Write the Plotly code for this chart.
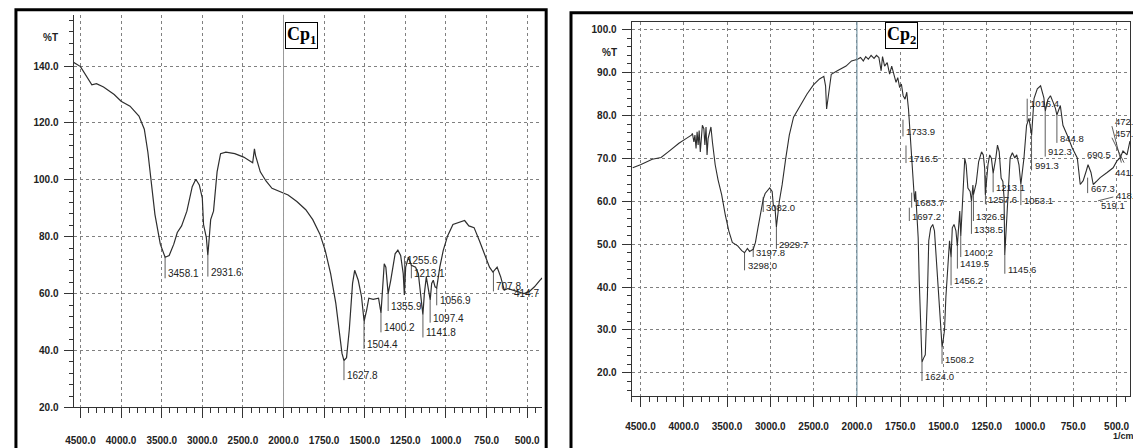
import plotly.graph_objects as go

W, H = 1133, 448

# ---------------- data ----------------
x_tick_wavenumbers = [4500, 4000, 3500, 3000, 2500, 2000, 1750, 1500, 1250, 1000, 750, 500]
x_tick_labels = ["4500.0", "4000.0", "3500.0", "3000.0", "2500.0", "2000.0",
                 "1750.0", "1500.0", "1250.0", "1000.0", "750.0", "500.0"]

cp1_wavenumber = [
    4596, 4500, 4360, 4303, 4216, 4085, 4000, 3890, 3780, 3714,
    3670, 3627, 3583, 3517, 3458, 3408, 3351, 3308, 3255, 3190,
    3124, 3080, 3037, 3000, 2985, 2950, 2932, 2897, 2862, 2818,
    2775, 2710, 2600, 2491, 2403, 2380, 2358, 2345, 2286, 2249,
    2216, 2142, 2055, 1972, 1918, 1863, 1820, 1776, 1743, 1710,
    1678, 1656, 1640, 1628, 1612, 1595, 1575, 1562, 1540, 1520,
    1504, 1488, 1475, 1448, 1415, 1400, 1392, 1380, 1370, 1356,
    1340, 1313, 1296, 1279, 1263, 1256, 1248, 1231, 1213, 1187,
    1170, 1154, 1142, 1133, 1121, 1097, 1088, 1078, 1067, 1057,
    1038, 1017, 990, 957, 925, 885, 859, 827, 794, 761,
    732, 711, 685, 663, 641, 619, 586, 553, 520, 488,
    455, 422, 408]
cp1_transmittance = [
    141.5, 139.8, 133.4, 133.8, 132.6, 130.0, 127.6, 125.9, 122.4, 117.8,
    109.7, 98.2, 87.8, 77.4, 72.8, 73.4, 77.4, 81.5, 83.8, 89.0,
    97.6, 100.2, 98.2, 93.6, 84.3, 79.7, 73.4, 86.0, 89.0, 102.8,
    109.2, 109.7, 109.2, 108.0, 106.3, 106.0, 110.9, 108.6, 102.8, 101.0,
    99.6, 97.0, 96.1, 94.7, 92.4, 89.5, 86.0, 80.9, 75.1, 67.0,
    56.6, 47.4, 39.0, 36.5, 37.5, 47.4, 63.6, 68.2, 64.7, 59.0,
    50.3, 54.3, 58.4, 58.0, 58.4, 53.2, 59.0, 70.5, 69.3, 60.0,
    64.7, 74.0, 75.3, 73.4, 67.0, 59.5, 69.3, 72.8, 70.0, 69.3,
    67.0, 59.0, 52.6, 60.0, 65.9, 57.8, 63.6, 64.7, 62.4, 62.0,
    69.3, 75.1, 80.3, 84.3, 84.9, 85.7, 83.8, 83.2, 78.6, 74.0,
    69.3, 67.6, 69.3, 65.9, 61.2, 61.8, 61.2, 60.7, 60.0, 60.7,
    62.4, 64.7, 65.5]

cp2_wavenumber = [
    4590, 4500, 4364, 4262, 4179, 4056, 3974, 3912, 3900, 3883,
    3871, 3858, 3846, 3834, 3822, 3809, 3797, 3785, 3768, 3756,
    3743, 3731, 3719, 3702, 3686, 3669, 3653, 3637, 3604, 3562,
    3521, 3480, 3439, 3377, 3330, 3298, 3265, 3240, 3198, 3172,
    3143, 3110, 3082, 3060, 3007, 2979, 2966, 2946, 2930, 2896,
    2864, 2822, 2781, 2732, 2658, 2576, 2502, 2432, 2382, 2362,
    2350, 2329, 2296, 2226, 2125, 2062, 1996, 1979, 1963, 1949,
    1934, 1918, 1901, 1887, 1873, 1860, 1852, 1840, 1825, 1811,
    1799, 1784, 1774, 1764, 1753, 1743, 1733, 1722, 1712, 1702,
    1696, 1687, 1681, 1675, 1667, 1661, 1655, 1646, 1640, 1630,
    1624, 1614, 1605, 1593, 1585, 1574, 1562, 1552, 1544, 1531,
    1523, 1513, 1508, 1502, 1494, 1486, 1476, 1465, 1456, 1449,
    1439, 1428, 1420, 1412, 1406, 1400, 1389, 1377, 1369, 1359,
    1346, 1338, 1330, 1327, 1311, 1297, 1280, 1270, 1262, 1258,
    1243, 1233, 1223, 1213, 1198, 1188, 1178, 1167, 1157, 1150,
    1146, 1130, 1115, 1102, 1088, 1077, 1064, 1053, 1035, 1020,
    1006, 991, 977, 958, 939, 920, 912, 897, 882, 867,
    853, 845, 825, 810, 796, 785, 756, 727, 710, 693,
    675, 665, 648, 635, 612, 595, 555, 520, 498, 480,
    463, 440, 423]
cp2_transmittance = [
    67.8, 68.5, 69.8, 70.2, 71.5, 73.5, 74.6, 75.4, 75.8, 73.8,
    75.4, 72.3, 76.2, 73.1, 76.5, 71.5, 74.6, 77.7, 76.9, 73.1,
    77.3, 70.8, 74.6, 76.5, 77.3, 73.8, 70.8, 68.5, 65.0, 61.5,
    56.9, 53.1, 50.4, 49.6, 48.5, 48.0, 49.0, 48.3, 48.8, 50.4,
    53.8, 57.7, 60.5, 61.8, 63.1, 62.3, 59.2, 58.5, 54.0, 60.0,
    63.8, 70.0, 75.4, 79.6, 82.3, 85.0, 87.1, 88.5, 89.1, 86.9,
    81.5, 84.6, 89.6, 90.4, 91.5, 92.7, 93.1, 93.5, 92.7, 93.7,
    93.1, 94.0, 93.3, 94.0, 93.5, 90.4, 93.7, 91.5, 92.3, 89.6,
    91.5, 89.2, 87.7, 88.8, 86.5, 87.3, 84.6, 83.8, 85.4, 81.5,
    77.7, 73.8, 68.5, 63.8, 60.0, 62.3, 56.9, 51.5, 41.5, 27.0,
    22.5, 23.5, 24.2, 37.7, 50.8, 53.8, 54.6, 53.1, 48.5, 39.2,
    36.2, 28.5, 26.0, 27.5, 30.0, 37.7, 43.8, 50.8, 46.9, 53.8,
    54.6, 53.1, 49.6, 56.2, 57.7, 51.9, 62.3, 70.0, 68.5, 63.1,
    62.3, 60.0, 63.8, 61.5, 64.2, 69.2, 71.5, 70.8, 67.7, 61.5,
    68.5, 70.8, 70.0, 66.5, 70.0, 73.1, 71.5, 65.4, 64.6, 60.8,
    47.5, 60.9, 70.1, 71.3, 70.1, 70.8, 68.5, 63.9, 70.1, 77.7,
    79.3, 75.4, 83.9, 86.2, 86.9, 84.1, 81.0, 83.7, 84.6, 83.1,
    81.6, 80.1, 82.3, 77.7, 76.5, 75.4, 72.4, 70.1, 63.9, 64.8,
    67.1, 68.5, 66.7, 63.9, 64.8, 65.5, 66.7, 67.8, 69.4, 70.1,
    71.7, 70.8, 74.0]

# peak labels (wavenumber, %T at peak, %T where the label text sits, wavenumber where text starts)
cp1_peak = [3458.1, 2931.6, 1627.8, 1504.4, 1400.2, 1355.9, 1255.6, 1213.1,
            1141.8, 1097.4, 1056.9, 707.8, 414.7]
cp1_peak_T = [72.8, 73.4, 36.5, 50.3, 53.2, 60.0, 59.5, 70.0,
              52.6, 57.8, 62.0, 67.6, None]
cp1_label_T = [67.0, 67.6, 31.2, 42.2, 48.0, 55.5, 71.6, 67.0,
               46.2, 51.4, 57.5, 62.4, 60.0]
cp1_label_at = list(cp1_peak)
cp1_label_side = ["left"] * 12 + ["right"]

cp2_peak = [3298.0, 3197.8, 3082.0, 2929.7, 1733.9, 1716.5, 1697.2, 1683.7,
            1624.0, 1508.2, 1456.2, 1419.5, 1400.2, 1338.5, 1326.9, 1257.6,
            1213.1, 1145.6, 1053.1, 1016.4, 991.3, 912.3, 844.8, 690.5,
            667.3, 519.1, 472.5, 457.1, 441.7, 418.5]
cp2_peak_T = [48.0, 49.5, 61.0, 54.0, 79.0, 73.0, 58.5, 62.0,
              22.5, 26.0, 46.9, 49.6, 51.9, 60.0, 61.5, 66.0,
              66.5, 47.5, 63.9, 78.5, 75.4, 81.0, 80.1, None,
              65.5, 61.0, 69.0, 69.0, None, None]
cp2_label_T = [45.0, 48.1, 58.6, 50.0, 76.2, 70.0, 56.5, 59.6,
               19.2, 23.2, 41.5, 45.4, 48.1, 53.5, 56.5, 60.4,
               63.2, 44.2, 60.2, 82.8, 68.3, 71.5, 74.7, 70.8,
               63.0, 59.0, 78.6, 75.9, 66.7, 61.4]
cp2_label_at = [3298.0, 3197.8, 3082.0, 2929.7, 1733.9, 1716.5, 1697.2, 1683.7,
                1624.0, 1508.2, 1456.2, 1419.5, 1400.2, 1338.5, 1326.9, 1257.6,
                1213.1, 1145.6, 1053.1, 1016.4, 991.3, 912.3, 844.8, 690.5,
                667.3, 607.0, 527.0, 527.0, 525.0, 520.0]
cp2_label_side = ["left"] * 30


# split-scale wavenumber axis (500 cm-1 steps above 2000, 250 cm-1 steps below)
def axis_pos(w):
    return (4500.0 - w) / 500.0 if w >= 2000 else 5.0 + (2000.0 - w) / 250.0


SANS = "Liberation Sans, Arial, sans-serif"
INK = "#222222"

fig = go.Figure()
fig.add_trace(go.Scatter(x=[axis_pos(w) for w in cp1_wavenumber], y=cp1_transmittance,
                         mode="lines", line=dict(color="#2e2e2e", width=1.2),
                         xaxis="x", yaxis="y", showlegend=False, hoverinfo="skip"))
fig.add_trace(go.Scatter(x=[axis_pos(w) for w in cp2_wavenumber], y=cp2_transmittance,
                         mode="lines", line=dict(color="#2e2e2e", width=1.1),
                         xaxis="x2", yaxis="y2", showlegend=False, hoverinfo="skip"))

tickvals = [axis_pos(w) for w in x_tick_wavenumbers]
tick_font = dict(family=SANS, size=10, color=INK, weight="bold")
grid = dict(showgrid=True, gridcolor="#808080", griddash="dot", gridwidth=1)


def xaxis_cfg(domain, rng, anchor, mirror, standoff):
    return dict(domain=domain, range=rng, anchor=anchor, tickmode="array",
                tickvals=tickvals, ticktext=x_tick_labels, ticks="outside",
                ticklen=10, tickwidth=1, tickcolor="#333", showline=True,
                linecolor="#333", linewidth=1, mirror=mirror, zeroline=False,
                tickfont=tick_font, ticklabelstandoff=standoff,
                minor=dict(tickmode="linear", tick0=0, dtick=0.2, ticks="outside",
                           ticklen=5, tickwidth=1, tickcolor="#333", showgrid=False),
                **grid)


def yaxis_cfg(domain, rng, anchor, vals, mdt, mirror):
    return dict(domain=domain, range=rng, anchor=anchor, tickmode="array",
                tickvals=vals, ticktext=[f"{v:.1f}" for v in vals], ticks="outside",
                ticklen=9, tickwidth=1, tickcolor="#333", showline=True,
                linecolor="#333", linewidth=1, mirror=mirror, zeroline=False,
                tickfont=tick_font, ticklabelstandoff=3,
                minor=dict(tickmode="linear", tick0=0, dtick=mdt, ticks="outside",
                           ticklen=4, tickwidth=1, tickcolor="#333", showgrid=False),
                **grid)


fig.update_layout(
    width=W, height=H, margin=dict(l=0, r=0, t=0, b=0),
    paper_bgcolor="white", plot_bgcolor="white",
    xaxis=xaxis_cfg([66 / W, 538 / W], [-0.171, 11.37], "y", False, 14),
    yaxis=yaxis_cfg([1 - 413 / H, 1 - 15 / H], [20, 158], "x",
                    [20, 40, 60, 80, 100, 120, 140], 4, False),
    xaxis2=xaxis_cfg([628 / W, 1130 / W], [-0.206, 11.31], "y2", True, 11),
    yaxis2=yaxis_cfg([1 - 401 / H, 1 - 22 / H], [14.7, 101.84], "x2",
                     [20, 30, 40, 50, 60, 70, 80, 90, 100], 2, True),
)

shapes = [
    # panel frames
    dict(type="rect", xref="paper", yref="paper", x0=8 / W, x1=542 / W,
         y0=-0.1, y1=1 - 10 / H, line=dict(color="black", width=3)),
    dict(type="rect", xref="paper", yref="paper", x0=567 / W, x1=1.1,
         y0=-0.1, y1=1 - 13 / H, line=dict(color="black", width=3)),
    # solid 2000 cm-1 lines
    dict(type="line", xref="x", yref="y domain", x0=axis_pos(2000), x1=axis_pos(2000),
         y0=0, y1=1, line=dict(color="#9a9a9a", width=1)),
    dict(type="line", xref="x2", yref="y2 domain", x0=axis_pos(2000), x1=axis_pos(2000),
         y0=0, y1=1, line=dict(color="#7796a6", width=1.2)),
]
annotations = []


def add_labels(peaks, peak_T, label_T, label_at, side, xr, yr, half, fsize):
    for p, pt, lt, at, sd in zip(peaks, peak_T, label_T, label_at, side):
        xa = axis_pos(at)
        annotations.append(dict(x=xa, y=lt, xref=xr, yref=yr, text=f"{p:.1f}",
                                showarrow=False, xanchor=sd, yanchor="middle",
                                xshift=1 if sd == "left" else 0,
                                font=dict(family=SANS, size=fsize, color=INK)))
        if pt is None:
            continue
        if at == p:
            yend = lt - half if lt < pt else lt + half
        else:
            yend = lt + half if lt < pt else lt - half
        shapes.append(dict(type="line", xref=xr, yref=yr, x0=axis_pos(p), x1=xa,
                           y0=pt, y1=yend, line=dict(color="#333", width=0.8)))


add_labels(cp1_peak, cp1_peak_T, cp1_label_T, cp1_label_at, cp1_label_side,
           "x", "y", 1.6, 10)
add_labels(cp2_peak, cp2_peak_T, cp2_label_T, cp2_label_at, cp2_label_side,
           "x2", "y2", 1.1, 9.5)

# panel titles in boxes
for txt, px in [("Cp<sub>1</sub>", 279), ("Cp<sub>2</sub>", 883)]:
    annotations.append(dict(x=px / W, y=1 - 22 / H, xref="paper", yref="paper",
                            text=f"<b>{txt}</b>", showarrow=False,
                            xanchor="left", yanchor="top", bgcolor="white",
                            bordercolor="black", borderwidth=1, borderpad=1,
                            font=dict(family="Liberation Serif, Times New Roman, serif",
                                      size=18, color="black")))
# %T axis captions and unit
for px, py in [(52, 38), (615, 53)]:
    annotations.append(dict(x=px / W, y=1 - py / H, xref="paper", yref="paper",
                            text="%T", showarrow=False, xanchor="right", yanchor="middle",
                            font=dict(family=SANS, size=10, color=INK, weight="bold")))
annotations.append(dict(x=1123 / W, y=1 - 442 / H, xref="paper", yref="paper",
                        text="1/cm", showarrow=False, xanchor="center", yanchor="middle",
                        font=dict(family=SANS, size=9, color=INK, weight="bold")))

fig.update_layout(shapes=shapes, annotations=annotations)
fig.write_html("out.html")
